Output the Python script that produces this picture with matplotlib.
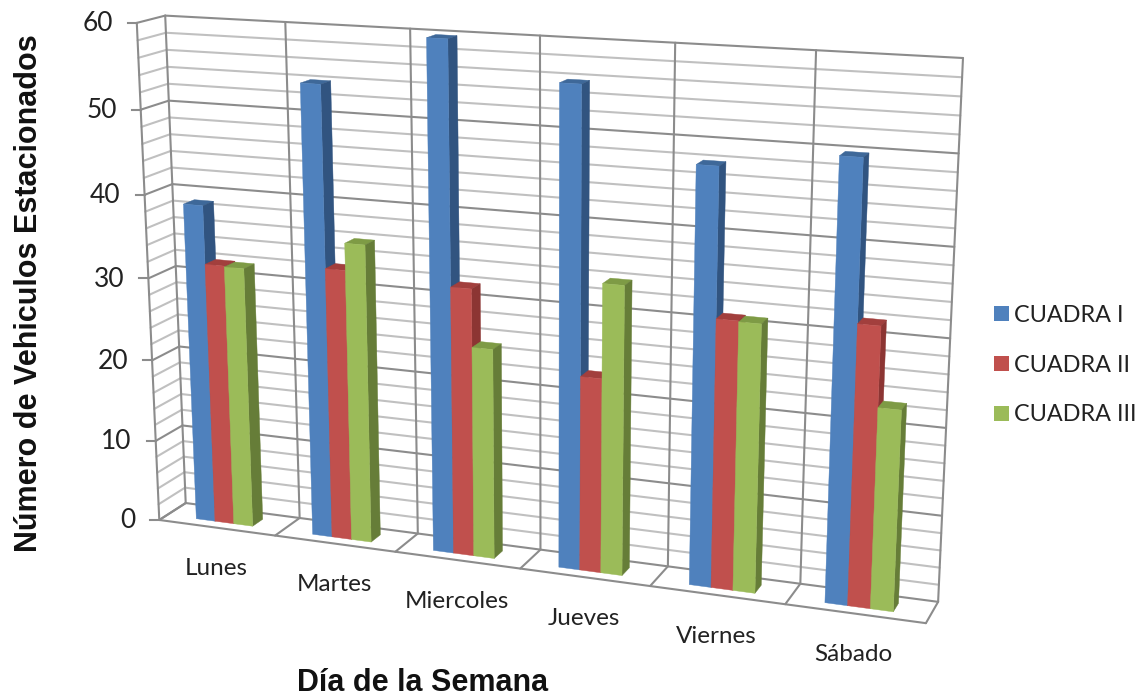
# -*- coding: utf-8 -*-
import numpy as np
import matplotlib
matplotlib.use('Agg')
import matplotlib.pyplot as plt
from matplotlib.patches import Polygon, Patch

dias = ['Lunes', 'Martes', 'Miercoles', 'Jueves', 'Viernes', 'Sábado']
cuadra_1 = [38.8, 53.9, 59.8, 55.7, 47.8, 49.8]
cuadra_2 = [31.8, 32.6, 31.8, 22.9, 31.0, 31.9]
cuadra_3 = [31.7, 35.8, 25, 33.8, 30.9, 22.9]
series_nombres = ['CUADRA I', 'CUADRA II', 'CUADRA III']
valores_eje = [0, 10, 20, 30, 40, 50, 60]

# front, side, top
COLORES = [('#4F81BD', '#315480', '#3E6899'),
           ('#C0504D', '#8C3533', '#A23F3D'),
           ('#9BBB59', '#667D38', '#7E9B45')]

GRID_MENOR = '#c0c0c0'
GRID_MAYOR = '#8c8c8c'

# frame corners of the excel 3d box: (cat, depth, value) -> pixels
MARCO = [((0, 0, 0), (159, 520)),
         ((0, 1, 0), (186, 503)),
         ((6, 1, 0), (938, 602)),
         ((6, 0, 0), (926, 623)),
         ((0, 0, 60), (137, 23)),
         ((0, 1, 60), (165, 15.5)),
         ((6, 1, 60), (963, 58))]


def camara(marco):
    A, b = [], []
    for (X, Y, Z), (u, v) in marco:
        A.append([X, Y, Z, 1, 0, 0, 0, 0, -u * X, -u * Y, -u * Z])
        A.append([0, 0, 0, 0, X, Y, Z, 1, -v * X, -v * Y, -v * Z])
        b += [u, v]
    p = np.linalg.lstsq(np.array(A, float), np.array(b, float), rcond=None)[0]
    return np.append(p, 1).reshape(3, 4)


P = camara(MARCO)


def proy(x, y, z):
    q = P @ np.array([x, y, z, 1.0])
    return q[0] / q[2], q[1] / q[2]


def linea(ax, a, b, color, lw=1.5, zorder=1):
    p0, p1 = proy(*a), proy(*b)
    ax.plot([p0[0], p1[0]], [p0[1], p1[1]], color=color, lw=lw, zorder=zorder,
            solid_capstyle='round')


def caja(ax, x0, x1, y0, y1, h, colores, z):
    front = [(x0, y0, 0), (x1, y0, 0), (x1, y0, h), (x0, y0, h)]
    side = [(x1, y0, 0), (x1, y1, 0), (x1, y1, h), (x1, y0, h)]
    top = [(x0, y0, h), (x1, y0, h), (x1, y1, h), (x0, y1, h)]
    for cara, c in ((top, colores[2]), (side, colores[1]), (front, colores[0])):
        ax.add_patch(Polygon([proy(*q) for q in cara], closed=True, facecolor=c,
                             edgecolor=c, lw=0.3, zorder=z))


fig = plt.figure(figsize=(11.41, 6.98), dpi=100)
ax = fig.add_axes([0, 0, 1, 1])
ax.set_xlim(0, 1141)
ax.set_ylim(698, 0)
ax.axis('off')

# walls
for v in range(0, 61, 2):
    c = GRID_MAYOR if v % 10 == 0 else GRID_MENOR
    linea(ax, (0, 1, v), (6, 1, v), c)
    linea(ax, (0, 0, v), (0, 1, v), c)
for i in range(7):
    linea(ax, (i, 1, 0), (i, 1, 60), GRID_MAYOR)
    linea(ax, (i, 0, 0), (i, 1, 0), GRID_MAYOR)
linea(ax, (0, 0, 0), (0, 0, 60), GRID_MAYOR)
linea(ax, (0, 0, 0), (6, 0, 0), GRID_MAYOR)

# ticks + labels on the front left edge
for v in valores_eje:
    x, y = proy(0, 0, v)
    ax.plot([x - 9, x], [y, y], color=GRID_MAYOR, lw=1.5, zorder=1)
    ax.text(x - 24, y + 1, str(v), ha='right', va='center', fontsize=19,
            family='Lato', color='#222222')

# bars
ANCHO = 0.163
MARGEN = 0.255
for i in range(len(dias)):
    vals = [cuadra_1[i], cuadra_2[i], cuadra_3[i]]
    for j, h in enumerate(vals):
        x0 = i + MARGEN + j * ANCHO
        caja(ax, x0, x0 + ANCHO, 0.3, 0.7, h, COLORES[j], 3 + i + j * 0.1)

for i, d in enumerate(dias):
    x, y = proy(i + 0.5, 0, 0)
    ax.text(x - 0.2 * i, y + 41, d, ha='center', va='center', fontsize=17.5,
            family='Lato', color='#222222')

ax.text(423, 683, 'Día de la Semana', ha='center', va='center', fontsize=22,
        fontweight='bold', family='Liberation Sans', color='#111111')
ax.text(29, 293, 'Número de Vehiculos Estacionados', ha='center', va='center',
        rotation=90, fontsize=22, fontweight='bold', family='Liberation Sans',
        color='#111111')

handles = [Patch(facecolor=c[0], edgecolor='none') for c in COLORES]
ax.legend(handles, series_nombres, loc='center left', bbox_to_anchor=(994, 365),
          bbox_transform=ax.transData, frameon=False,
          prop={'family': 'Lato', 'size': 16.8}, labelcolor='#222222',
          handlelength=0.64, handleheight=0.64, handletextpad=0.23, labelspacing=1.24,
          borderpad=0, borderaxespad=0)

fig.savefig('out.png', dpi=100)
